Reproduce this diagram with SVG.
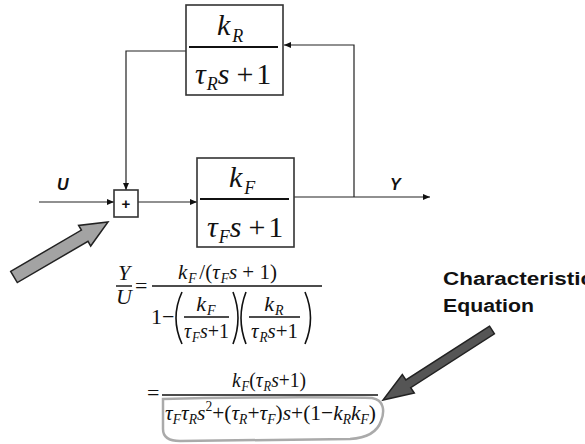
<svg xmlns="http://www.w3.org/2000/svg" width="585" height="444" viewBox="0 0 585 444">
<defs>
<style>
.ln{stroke:#222;stroke-width:1.2;fill:none}
.bx{fill:#fff;stroke:#333;stroke-width:1.6}
.fl{stroke:#111;stroke-width:2}
.el{stroke:#111;stroke-width:1.4}
.m{font-family:"Liberation Serif","Times New Roman",serif;font-style:italic;fill:#111}
.u{font-style:normal}
.lab{font-family:"Liberation Sans",Arial,sans-serif;font-weight:bold;fill:#111}
.par{fill:none;stroke:#111;stroke-width:1.6}
</style>
<marker id="ah" markerWidth="8" markerHeight="6" refX="7" refY="3" orient="auto" markerUnits="userSpaceOnUse">
<path d="M0,0 L7,3 L0,6 Z" fill="#111"/>
</marker>
</defs>
<rect width="585" height="444" fill="#fff"/>

<g id="connectors">
<path class="ln" d="M39,202 L114,202" marker-end="url(#ah)"/>
<path class="ln" d="M138,202 L197,202" marker-end="url(#ah)"/>
<path class="ln" d="M294,197 L430,197" marker-end="url(#ah)"/>
<path class="ln" d="M354,197 L354,45 L284,45" marker-end="url(#ah)"/>
<path class="ln" d="M186,51 L126,51 L126,190" marker-end="url(#ah)"/>
</g>

<g id="feedback-block">
<rect class="bx" x="186" y="5" width="97" height="90"/>
<line class="fl" x1="189" y1="47" x2="278" y2="47"/>
<text class="m" x="217" y="35" font-size="30">k<tspan font-size="18" dx="2" dy="7">R</tspan></text>
<text class="m" x="195" y="84" font-size="30">τ<tspan font-size="18" dx="1" dy="6">R</tspan><tspan dy="-6">s</tspan><tspan class="u" dx="7">+</tspan><tspan class="u" dx="3">1</tspan></text>
</g>

<g id="sum">
<rect class="bx" x="114" y="190" width="24" height="27" stroke-width="1.3"/>
<text class="lab" x="126" y="209" font-size="15" text-anchor="middle">+</text>
</g>

<g id="forward-block">
<rect class="bx" x="197" y="158" width="97" height="89"/>
<line class="fl" x1="200" y1="199" x2="289" y2="199"/>
<text class="m" x="229" y="187" font-size="30">k<tspan font-size="18" dx="2" dy="7">F</tspan></text>
<text class="m" x="207" y="237" font-size="30">τ<tspan font-size="18" dx="1" dy="6">F</tspan><tspan dy="-6">s</tspan><tspan class="u" dx="7">+</tspan><tspan class="u" dx="3">1</tspan></text>
</g>

<g id="labels">
<text class="lab" x="57" y="190" font-size="16" font-style="italic">U</text>
<text class="lab" x="390" y="190" font-size="16" font-style="italic">Y</text>
<text class="lab" x="443" y="285" font-size="18" textLength="150" lengthAdjust="spacingAndGlyphs">Characteristic</text>
<text class="lab" x="443" y="312" font-size="18" textLength="91" lengthAdjust="spacingAndGlyphs">Equation</text>
</g>

<g id="arrow-sum">
<polygon points="10.7,271.4 81.4,230.1 78.6,225.4 108,222 90.7,246 88,241.3 17.3,282.6" fill="#a3a3a3" stroke="#222" stroke-width="1.5"/>
</g>
<g id="arrow-char">
<polygon points="489.6,326.2 405.9,380 402.3,374.5 383,400 414.3,393.1 410.7,387.6 494.4,333.8" fill="#555" stroke="#222" stroke-width="1.5"/>
</g>

<g id="equation1">
<text class="m" x="124" y="280" font-size="22" text-anchor="middle">Y</text>
<line class="el" x1="116" y1="286" x2="132" y2="286"/>
<text class="m" x="124" y="304" font-size="22" text-anchor="middle">U</text>
<text class="m u" x="135" y="293" font-size="22">=</text>
<text class="m" x="178" y="279" font-size="22" textLength="99" lengthAdjust="spacingAndGlyphs">k<tspan font-size="14" dx="1" dy="4">F</tspan><tspan class="u" dx="3" dy="-4">/(</tspan>τ<tspan font-size="14" dx="1" dy="4">F</tspan><tspan dy="-4">s</tspan><tspan class="u"> + 1)</tspan></text>
<line class="el" x1="152" y1="286" x2="322" y2="286"/>
<text class="m u" x="151" y="324" font-size="22">1−</text>
<path class="par" d="M182,292 Q170,318 182,344"/>
<text class="m" x="206" y="311" font-size="22" text-anchor="middle">k<tspan font-size="14" dx="1" dy="4">F</tspan></text>
<line class="el" x1="184" y1="317" x2="229" y2="317"/>
<text class="m" x="184" y="338" font-size="22" textLength="45" lengthAdjust="spacingAndGlyphs">τ<tspan font-size="14" dx="1" dy="4">F</tspan><tspan dy="-4">s</tspan><tspan class="u">+1</tspan></text>
<path class="par" d="M233,292 Q243,318 233,344"/>
<path class="par" d="M246,292 Q236,318 246,344"/>
<text class="m" x="274" y="311" font-size="22" text-anchor="middle">k<tspan font-size="14" dx="1" dy="4">R</tspan></text>
<line class="el" x1="249" y1="317" x2="300" y2="317"/>
<text class="m" x="251" y="338" font-size="22" textLength="47" lengthAdjust="spacingAndGlyphs">τ<tspan font-size="14" dx="1" dy="4">R</tspan><tspan dy="-4">s</tspan><tspan class="u">+1</tspan></text>
<path class="par" d="M305,292 Q316,318 305,344"/>
</g>

<g id="equation2">
<text class="m u" x="147" y="400" font-size="22">=</text>
<text class="m" x="232" y="387" font-size="22" textLength="74" lengthAdjust="spacingAndGlyphs">k<tspan font-size="14" dx="1" dy="4">F</tspan><tspan class="u" dy="-4">(</tspan>τ<tspan font-size="14" dx="1" dy="4">R</tspan><tspan dy="-4">s</tspan><tspan class="u">+1)</tspan></text>
<line class="el" x1="162" y1="395" x2="378" y2="395"/>
<text class="m" x="165" y="420" font-size="22" textLength="211" lengthAdjust="spacingAndGlyphs">τ<tspan font-size="14" dy="4">F</tspan><tspan dy="-4">τ</tspan><tspan font-size="14" dy="4">R</tspan><tspan dy="-4">s</tspan><tspan class="u" font-size="14" dy="-9">2</tspan><tspan class="u" dy="9">+(</tspan>τ<tspan font-size="14" dy="4">R</tspan><tspan class="u" dy="-4">+</tspan>τ<tspan font-size="14" dy="4">F</tspan><tspan class="u" dy="-4">)</tspan>s<tspan class="u">+(1−</tspan>k<tspan font-size="14" dy="4">R</tspan><tspan dy="-4">k</tspan><tspan font-size="14" dy="4">F</tspan><tspan class="u" dy="-4">)</tspan></text>
<path d="M163,399 C230,397 330,397 372,398 C384,400 385,411 381,421 C377,433 366,438 350,439 L180,441 C168,441 163,437 163,429 Z" fill="none" stroke="#aaa" stroke-width="2.5"/>
</g>
</svg>
